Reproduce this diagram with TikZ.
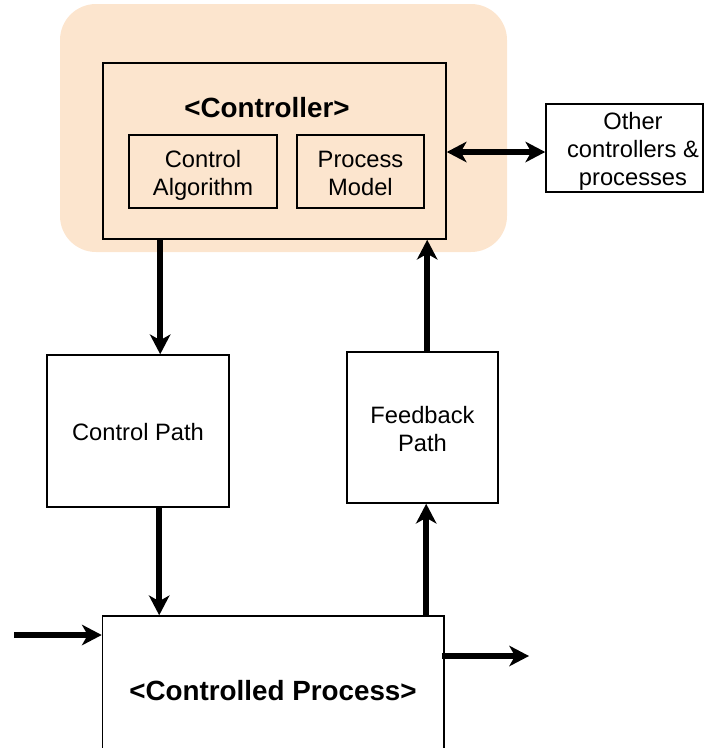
\documentclass[tikz,border=0pt]{standalone}
\usepackage{fontspec}
\setmainfont{Liberation Sans}
\usetikzlibrary{arrows.meta,calc}
\definecolor{peach}{RGB}{252,229,206}
\tikzset{
  box/.style={draw=black, line width=1.6pt, fill=white, inner sep=0pt},
  txt/.style={align=center, font=\fontsize{23.7}{28}\selectfont, inner sep=0pt},
  bold/.style={font=\fontsize{27.8}{32}\selectfont\bfseries, inner sep=0pt},
  tip/.tip={Stealth[length=20pt,width=21pt,inset=6pt,line width=0pt]},
  arr/.style={line width=5.8pt, -tip},
  dblarr/.style={line width=5.8pt, tip-tip}
}
\begin{document}
\begin{tikzpicture}[x=1pt,y=-1pt]
\useasboundingbox (0,0) rectangle (705,748);
\clip (0,0) rectangle (705,748);

% controller group background
\node[fill=peach, rounded corners=36pt, minimum width=447pt, minimum height=248pt, inner sep=0pt] (grp) at (283.5,128) {};

% controller and its parts
\node[box, fill=peach, minimum width=343pt, minimum height=176pt] (ctrl) at (274.5,151) {};
\node[bold] (ctitle) at (267,108) {<Controller>};
\node[box, fill=peach, minimum width=148pt, minimum height=73pt] (alg) at (203,171.5) {};
\node[txt] (algtxt) at ([yshift=-3.5pt]alg.center) {Control\\Algorithm};
\node[box, fill=peach, minimum width=127pt, minimum height=73pt] (pm) at (360.5,171.5) {};
\node[txt] (pmtxt) at ([yshift=-2pt]pm.center) {Process\\Model};

% other controllers
\node[box, minimum width=157pt, minimum height=88pt] (other) at (624.5,148) {};
\node[txt] (othertxt) at (633,151.5) {Other\\controllers \&\\processes};

% paths
\node[box, minimum width=182pt, minimum height=152pt] (cpath) at (138,431) {};
\node[txt] (cpathtxt) at ([yshift=-1pt]cpath.center) {Control Path};
\node[box, minimum width=151pt, minimum height=151pt] (fb) at (422.5,427.5) {};
\node[txt] (fbtxt) at ([yshift=-2pt]fb.center) {Feedback\\Path};

% controlled process
\node[box, minimum width=341.5pt, minimum height=154pt] (proc) at (273.25,693) {};
\node[bold] (proctxt) at (273,691) {<Controlled Process>};

% free ends
\coordinate (in) at (14,635);
\coordinate (out) at (529,656);

% connectors
\draw[arr] ([xshift=58pt]ctrl.south west) -- ([xshift=58pt]ctrl.south west |- cpath.north);
\draw[arr] ([xshift=113pt]cpath.south west) -- ([xshift=113pt]cpath.south west |- proc.north);
\draw[arr] ([xshift=80pt]fb.south west |- proc.north) -- ([xshift=80pt]fb.south west);
\draw[arr] ([xshift=81pt]fb.north west) -- ([xshift=81pt]fb.north west |- ctrl.south);
\draw[dblarr] ([yshift=-1pt]ctrl.east) -- ([yshift=-1pt]ctrl.east -| other.west);
\draw[arr] (in) -- (in -| proc.west);
\draw[arr] ([xshift=-3pt]proc.east |- out) -- (out);
\end{tikzpicture}
\end{document}
